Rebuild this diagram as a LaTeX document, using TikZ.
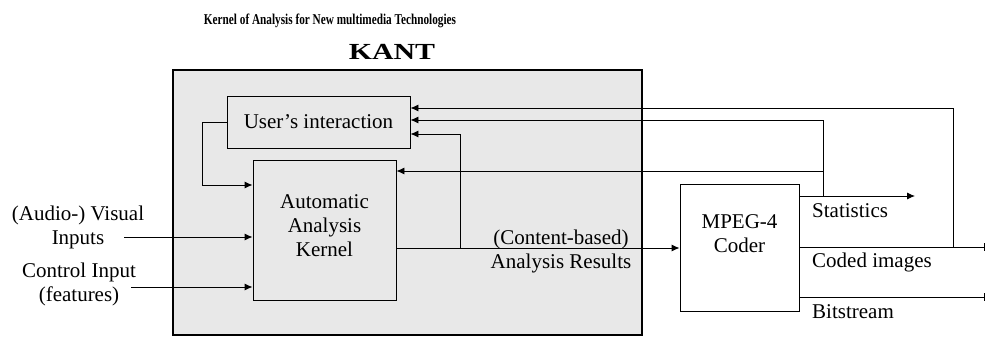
\documentclass[tikz,border=0pt]{standalone}
\usepackage{fontspec}
\setmainfont{Liberation Serif}
\usetikzlibrary{arrows.meta}
\begin{document}
\begin{tikzpicture}[x=1pt,y=-1pt,
  txt/.style={font=\fontsize{21}{24}\selectfont, align=center, inner sep=0pt},
  blk/.style={draw, line width=0.9pt, inner sep=0pt},
  conn/.style={line width=0.9pt},
  arr/.style={conn, -{Latex[length=8pt,width=7pt]}},
  barend/.style={conn, -{Bar[width=8pt,line width=1pt]}}]
\useasboundingbox (0,0) rectangle (986,337);
% KANT frame
\node[draw, line width=2.2pt, fill=black!9, minimum width=469pt, minimum height=265pt, inner sep=0pt] (kant) at (407.5,202.5) {};
% titles
\node[font=\bfseries\fontsize{15}{17}\selectfont, inner sep=0pt] (title) at (330,21) {\scalebox{0.75}[1]{Kernel of Analysis for New multimedia Technologies}};
\node[font=\bfseries\fontsize{23}{26}\selectfont, inner sep=0pt] (kanttitle) at (392,52) {\scalebox{1.3}[1]{KANT}};
% blocks
\node[blk, minimum width=183pt, minimum height=52pt, txt] (user) at (318.5,122) {User's interaction};
\node[blk, minimum width=143pt, minimum height=140pt] (kernel) at (324.5,230) {};
\node[txt] (kerneltxt) at (324.5,226) {Automatic\\Analysis\\Kernel};
\node[blk, fill=white, minimum width=119pt, minimum height=127pt] (mpeg) at (739.5,247.5) {};
\node[txt] (mpegtxt) at (739.5,234) {MPEG-4\\Coder};
% input labels
\node[txt] (vis) at (78,227) {(Audio-) Visual\\Inputs};
\node[txt] (ctl) at (79,284) {Control Input\\(features)};
\node[txt] (res) at (561,251) {(Content-based)\\Analysis Results};
\node[txt, anchor=west] (stat) at (812,211) {Statistics};
\node[txt, anchor=west] (coded) at (812,262) {Coded images};
\node[txt, anchor=west] (bits) at (812,312) {Bitstream};
% coordinates
\coordinate (lp) at (202,185);
\coordinate (vin) at (124,237);
\coordinate (cin) at (131,287);
\coordinate (ao) at (396,248);
\coordinate (fa) at (460,248);
\coordinate (fa2) at (460,134);
\coordinate (st0) at (799,196);
\coordinate (st1) at (915,196);
\coordinate (sv) at (823,196);
\coordinate (sv1) at (823,120);
\coordinate (sv2) at (823,171);
\coordinate (ci0) at (799,247);
\coordinate (ci1) at (985,247);
\coordinate (cv) at (953,247);
\coordinate (cv1) at (953,108);
\coordinate (bs0) at (799,297);
\coordinate (bs1) at (985,297);
% connectors
\draw[arr] (user.west) -| (lp) -- (lp -| kernel.west);
\draw[arr] (vin) -- (vin -| kernel.west);
\draw[arr] (cin) -- (cin -| kernel.west);
\draw[arr] (ao) -- (ao -| mpeg.west);
\draw[arr] (fa) -- (fa2) -- (fa2 -| user.east);
\draw[arr] (st0) -- (st1);
\draw[arr] (sv) -- (sv1) -- (sv1 -| user.east);
\draw[arr] (sv2) -- (sv2 -| kernel.east);
\draw[barend] (ci0) -- (ci1);
\draw[arr] (cv) -- (cv1) -- (cv1 -| user.east);
\draw[barend] (bs0) -- (bs1);
\end{tikzpicture}
\end{document}
